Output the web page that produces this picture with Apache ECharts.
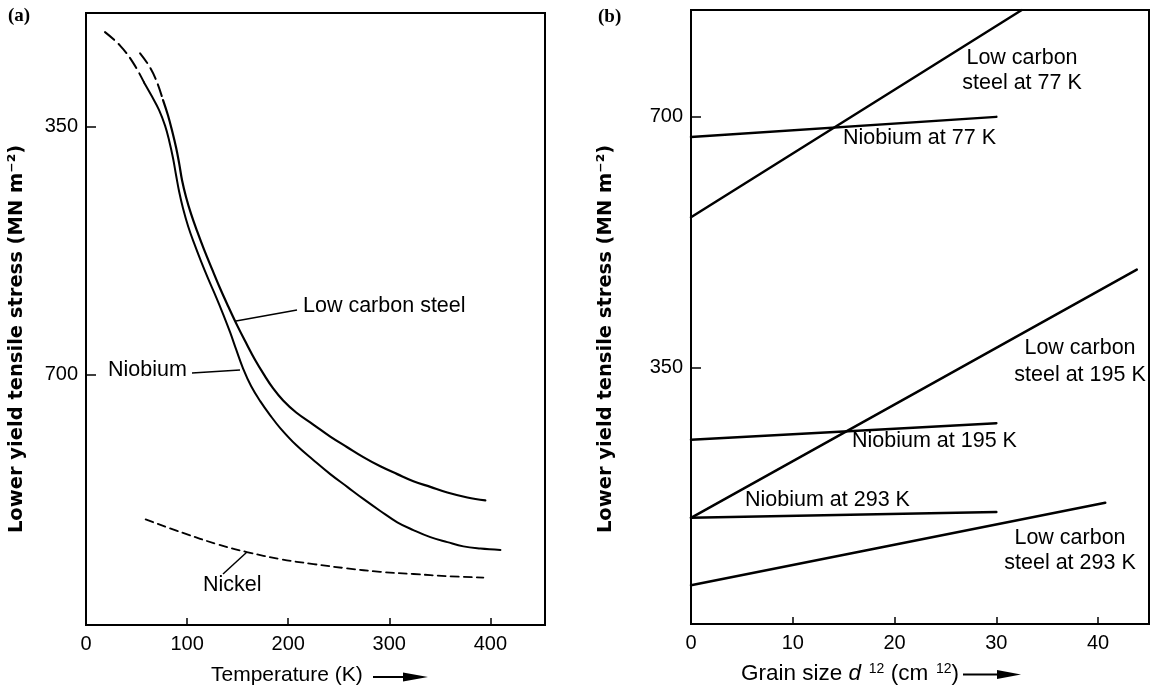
<!DOCTYPE html>
<html><head><meta charset="utf-8">
<script src="https://cdn.jsdelivr.net/npm/echarts@6/dist/echarts.min.js"></script>
<style>html,body{margin:0;padding:0;background:#fff}#c{width:1153px;height:688px}</style>
</head><body><div id="c"></div>
<script>
// ---------- Panel (a): yield stress vs temperature ----------
const tempTicks = [0, 100, 200, 300, 400];
const stressTicksA = [350, 700];
const niobiumDashT = [18.8, 33.7, 46.5, 57.4];
const niobiumDashS = [217, 236, 260, 288];
const niobiumT = [57.4, 65.3, 72.3, 78.2, 82.2, 86.1, 89.1, 92.1, 96.0, 101.0, 106.9, 113.9, 120.8, 128.7, 135.6, 142.6, 148.5, 155.4, 163.4, 172.3, 182.2, 192.1, 207.9, 224.8, 241.6, 258.4, 274.3, 291.1, 307.9, 323.8, 340.6, 357.4, 373.3, 390.1, 409.9];
const niobiumS = [288, 308, 327, 349, 370, 395, 419, 442, 466, 491, 515, 541, 565, 591, 615, 641, 665, 692, 717, 738, 758, 776, 800, 821, 841, 859, 876, 893, 909, 920, 930, 937, 943, 946, 948];
const steelDashT = [53.5, 63.4, 70.3, 76.2];
const steelDashS = [247, 267, 288, 313];
const steelT = [76.2, 81.2, 85.1, 89.1, 92.1, 95.0, 99.0, 104.0, 109.9, 116.8, 124.8, 132.7, 140.6, 149.5, 158.4, 167.3, 176.2, 185.1, 195.0, 207.9, 224.8, 241.6, 258.4, 274.3, 291.1, 307.9, 323.8, 340.6, 357.4, 377.2, 395.0];
const steelS = [313, 335, 356, 380, 402, 426, 450, 474, 498, 524, 552, 579, 604, 631, 656, 680, 701, 720, 737, 754, 771, 788, 803, 817, 830, 841, 851, 859, 867, 874, 878];
const nickelT = [59, 96, 130, 159, 192, 225, 258, 291, 324, 357, 393];
const nickelS = [905, 924, 940, 951, 961, 968, 974, 979, 982, 985, 987];

// ---------- Panel (b): yield stress vs grain size ----------
const grainTicks = [0, 10, 20, 30, 40];
const stressTicksB = [350, 700];
const steel77G = [0, 32.5],  steel77S = [560, 849];
const niob77G = [0, 30],     niob77S = [672, 700];
const steel195G = [0, 43.8], steel195S = [141, 487];
const niob195G = [0, 30],    niob195S = [250, 273];
const niob293G = [0, 30],    niob293S = [141, 149];
const steel293G = [0, 40.7], steel293S = [47, 162];

const zip = (a, b) => a.map((v, i) => [v, b[i]]);
const BLACK = '#000';
const LAB = '"Liberation Sans", Arial, sans-serif';
const TITLE = '"DejaVu Sans", sans-serif';

function curve(xi, t, s, w, dash, sm) {
  return { type: 'line', xAxisIndex: xi, yAxisIndex: xi, data: zip(t, s), symbol: 'none',
    smooth: sm || false, silent: true, animation: false, clip: true,
    lineStyle: { color: BLACK, width: w, type: dash || 'solid', join: 'round', cap: 'round' } };
}

function axisX(gi, min, max, interval, ticks) {
  return { type: 'value', gridIndex: gi, min: min, max: max, interval: interval,
    axisLine: { show: true, onZero: false, lineStyle: { color: BLACK, width: 2 } },
    axisTick: { show: true, inside: true, length: 7, customValues: ticks, lineStyle: { color: BLACK, width: 1.5 } },
    axisLabel: { customValues: ticks, color: BLACK, fontSize: 20, fontFamily: LAB, margin: 9 },
    splitLine: { show: false } };
}
function axisY(gi, min, max, inverse, ticks) {
  return { type: 'value', gridIndex: gi, min: min, max: max, inverse: inverse,
    axisLine: { show: true, onZero: false, lineStyle: { color: BLACK, width: 2 } },
    axisTick: { show: true, inside: true, length: 10, customValues: ticks, lineStyle: { color: BLACK, width: 1.5 } },
    axisLabel: { customValues: ticks, color: BLACK, fontSize: 20, fontFamily: LAB, margin: 8 },
    splitLine: { show: false } };
}

function txt(x, y, text, font, align, extra) {
  return Object.assign({ type: 'text', x: x, y: y, silent: true,
    style: { text: text, font: font, fill: BLACK, align: align || 'left', verticalAlign: 'middle',
      textAlign: align || 'left', textVerticalAlign: 'middle' } }, extra || {});
}
function multi(x, y, text, font, lh) {
  return { type: 'text', x: x, y: y, silent: true,
    style: { text: text, font: font, fill: BLACK, align: 'center', verticalAlign: 'middle', lineHeight: lh } };
}
function seg(x1, y1, x2, y2, w) {
  return { type: 'line', silent: true, shape: { x1: x1, y1: y1, x2: x2, y2: y2 },
    style: { stroke: BLACK, lineWidth: w || 1.5 } };
}
function head(pts) {
  return { type: 'polygon', silent: true, shape: { points: pts }, style: { fill: BLACK } };
}
const annFont = '21.5px ' + LAB;
const titleFont = 'bold 19.5px ' + TITLE;

const chart = echarts.init(document.getElementById('c'), null, { renderer: 'canvas' });
chart.setOption({
  backgroundColor: '#fff',
  animation: false,
  grid: [
    { left: 86, top: 13, width: 459, height: 612, show: true, borderColor: BLACK, borderWidth: 2, containLabel: false },
    { left: 691, top: 10, width: 458, height: 614, show: true, borderColor: BLACK, borderWidth: 2, containLabel: false }
  ],
  xAxis: [ axisX(0, 0, 454, 100, tempTicks), axisX(1, 0, 45, 10, grainTicks) ],
  yAxis: [ axisY(0, 190, 1054, true, stressTicksA), axisY(1, -7, 849, false, stressTicksB) ],
  series: [
    curve(0, niobiumDashT, niobiumDashS, 2, [12, 6], 0.4),
    curve(0, niobiumT, niobiumS, 2, null, 0.4),
    curve(0, steelDashT, steelDashS, 2, [12, 6], 0.4),
    curve(0, steelT, steelS, 2.2, null, 0.4),
    curve(0, nickelT, nickelS, 1.8, [8, 5], 0.4),
    curve(1, steel77G, steel77S, 2.5),
    curve(1, niob77G, niob77S, 2.5),
    curve(1, steel195G, steel195S, 2.5),
    curve(1, niob195G, niob195S, 2.5),
    curve(1, niob293G, niob293S, 2.5),
    curve(1, steel293G, steel293S, 2.5)
  ],
  graphic: { elements: [
    txt(8, 16, '(a)', 'bold 19px "Liberation Serif", serif'),
    txt(598, 17, '(b)', 'bold 19px "Liberation Serif", serif'),
    txt(16.5, 339, 'Lower yield tensile stress (MN m\u207B\u00B2)', titleFont, 'center', { rotation: Math.PI / 2 }),
    txt(606, 339, 'Lower yield tensile stress (MN m\u207B\u00B2)', titleFont, 'center', { rotation: Math.PI / 2 }),
    txt(211, 675, 'Temperature (K)', '21px ' + LAB),
    seg(373, 677, 410, 677, 2),
    head([[403, 672.5], [428, 677], [403, 681.5]]),
    { type: 'text', x: 741, y: 674, silent: true,
      style: { text: '{n|Grain size }{i|d}{s|  12}{n| (cm}{s|  12}{n|)}', fill: BLACK,
        align: 'left', verticalAlign: 'middle',
        rich: { n: { font: '22.5px ' + LAB, fill: BLACK },
                i: { font: 'italic 22.5px ' + LAB, fill: BLACK },
                s: { font: '14px ' + LAB, fill: BLACK, verticalAlign: 'top' } } } },
    seg(963, 674.5, 1005, 674.5, 2),
    head([[997, 670], [1021, 674.5], [997, 679]]),
    // panel (a) annotations
    txt(303, 306, 'Low carbon steel', annFont),
    seg(236, 321, 297, 310),
    txt(108, 370, 'Niobium', annFont),
    seg(192, 373, 240, 370),
    txt(203, 585, 'Nickel', annFont),
    seg(223, 574, 247, 552),
    // panel (b) annotations
    multi(1022, 70.5, 'Low carbon\nsteel at 77 K', annFont, 25),
    txt(843, 138, 'Niobium at 77 K', annFont),
    multi(1080, 361.5, 'Low carbon\nsteel at 195 K', annFont, 27),
    txt(852, 441, 'Niobium at 195 K', annFont),
    txt(745, 500, 'Niobium at 293 K', annFont),
    multi(1070, 550.5, 'Low carbon\nsteel at 293 K', annFont, 25)
  ] }
});
</script>
</body></html>
